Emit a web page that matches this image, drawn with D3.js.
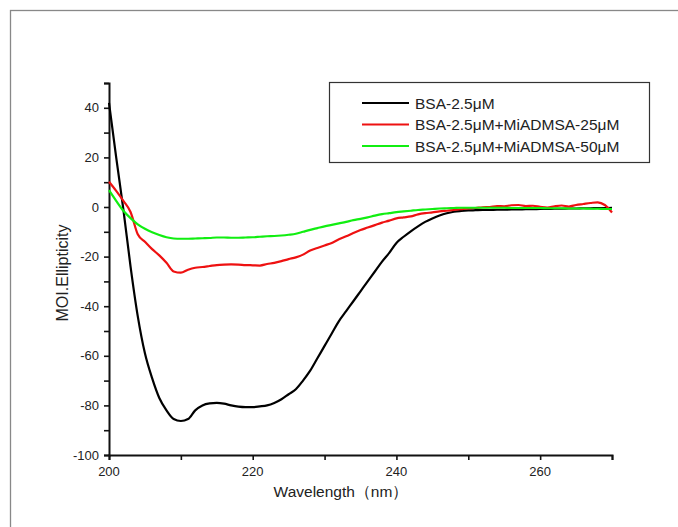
<!DOCTYPE html>
<html>
<head>
    <meta charset="utf-8">
    <title>CD spectra</title>
    <script src="https://d3js.org/d3.v7.min.js"></script>
    <style>
        body { margin: 0; background: #fff; }
        text { font-family: Arial, 'Liberation Sans', sans-serif; fill: #222; }
    </style>
</head>
<body>
    <svg id="chart" width="678" height="527"></svg>
    <script>
        // wavelength, nm (1 nm steps)
        const wavelength = d3.range(200, 271);

        const bsa = [42, 20, -1, -24, -44, -59, -69, -77, -82, -85.5,
            -86.3, -85.5, -82, -80, -79.2, -79, -79.3, -80, -80.5, -80.7,
            -80.7, -80.4, -80, -79, -77.5, -75.5, -73.5, -70, -66, -61,
            -56, -51, -46, -42, -38, -34, -30, -26, -22, -18.5,
            -14.5, -12, -9.8, -7.8, -6, -4.6, -3.4, -2.5, -1.9, -1.6,
            -1.4, -1.3, -1.2, -1.2, -1.1, -1.1, -1, -1, -0.9, -0.9,
            -0.8, -0.8, -0.7, -0.7, -0.6, -0.6, -0.5, -0.5, -0.4, -0.4, -0.3];

        const mix25 = [10.2, 6.5, 2.5, -2, -11, -14, -17, -19.5, -22.5, -26,
            -26.5, -25.3, -24.5, -24.2, -23.8, -23.4, -23.2, -23.1, -23.2, -23.4,
            -23.5, -23.6, -23, -22.5, -21.8, -21, -20.3, -19.2, -17.5, -16.5,
            -15.5, -14.5, -13, -11.8, -10.5, -9.3, -8.3, -7.3, -6.3, -5.5,
            -4.6, -4.2, -3.8, -3, -2.5, -2.2, -1.8, -1.5, -1.2, -0.9,
            -0.6, -0.4, -0.1, 0, 0.4, 0.3, 0.7, 0.8, 0.4, 0.5,
            0.1, -0.2, 0.3, 0.6, 0.2, 0.8, 1.2, 1.6, 1.9, 0.8, -2.2];

        const mix50 = [6.8, 2.5, -1.5, -4.5, -7, -8.8, -10.2, -11.3, -12.2, -12.7,
            -12.8, -12.8, -12.7, -12.6, -12.5, -12.3, -12.3, -12.4, -12.4, -12.3,
            -12.2, -12, -11.8, -11.7, -11.5, -11.2, -10.8, -10, -9.2, -8.5,
            -7.8, -7.2, -6.6, -6, -5.3, -4.8, -4.2, -3.5, -2.9, -2.5,
            -2.1, -1.8, -1.5, -1.2, -1, -0.8, -0.6, -0.5, -0.4, -0.3,
            -0.3, -0.3, -0.3, -0.3, -0.3, -0.3, -0.4, -0.4, -0.4, -0.4,
            -0.4, -0.5, -0.5, -0.5, -0.6, -0.6, -0.6, -0.7, -0.7, -0.8, -0.8];

        const seriesNames = ["BSA-2.5μM", "BSA-2.5μM+MiADMSA-25μM", "BSA-2.5μM+MiADMSA-50μM"];
        const seriesColors = ["#000000", "#ee1111", "#11ee11"];
        const seriesValues = [bsa, mix25, mix50];

        const xTicks = [200, 220, 240, 260];
        const yTicks = [-100, -80, -60, -40, -20, 0, 20, 40];

        const svg = d3.select("#chart");

        // outer frame
        svg.append("rect")
            .attr("x", 10.5).attr("y", 10.5)
            .attr("width", 720).attr("height", 600)
            .attr("fill", "none")
            .attr("stroke", "#888")
            .attr("stroke-width", 1.3);

        const plotLeft = 109, plotRight = 612, plotTop = 83, plotBottom = 455;

        const x = d3.scaleLinear().domain([200, 270]).range([plotLeft, plotRight]);
        const y = d3.scaleLinear().domain([-100, 50]).range([plotBottom, plotTop]);

        // ticks every 10, labels every 20
        const xAxisMinor = d3.axisBottom(x).tickValues(d3.range(200, 271, 10)).tickSize(5).tickFormat("");
        const yAxisMinor = d3.axisLeft(y).tickValues(d3.range(-100, 51, 10)).tickSize(5).tickFormat("");

        const gx = svg.append("g").attr("transform", `translate(0,${plotBottom})`).call(xAxisMinor);
        const gy = svg.append("g").attr("transform", `translate(${plotLeft},0)`).call(yAxisMinor);

        [gx, gy].forEach(g => {
            g.select(".domain").attr("stroke", "#111").attr("stroke-width", 2);
            g.selectAll(".tick line").attr("stroke", "#111").attr("stroke-width", 1.6);
        });

        svg.append("g").selectAll("text").data(xTicks).join("text")
            .attr("x", d => x(d)).attr("y", plotBottom + 21)
            .attr("text-anchor", "middle")
            .attr("font-size", 13)
            .text(d => d);

        svg.append("g").selectAll("text").data(yTicks).join("text")
            .attr("x", plotLeft - 10).attr("y", d => y(d) + 4.5)
            .attr("text-anchor", "end")
            .attr("font-size", 13)
            .text(d => d);

        svg.append("text")
            .attr("x", 341).attr("y", 497)
            .attr("text-anchor", "middle")
            .attr("font-size", 15.5)
            .text("Wavelength（nm）");

        svg.append("text")
            .attr("transform", "translate(68,273) rotate(-90)")
            .attr("text-anchor", "middle")
            .attr("font-size", 16)
            .text("MOI.Ellipticity");

        // curves
        const line = d3.line()
            .x((d, i) => x(wavelength[i]))
            .y(d => y(d))
            .curve(d3.curveMonotoneX);

        svg.append("g").selectAll("path").data(seriesValues).join("path")
            .attr("d", line)
            .attr("fill", "none")
            .attr("stroke", (d, i) => seriesColors[i])
            .attr("stroke-width", 2.2);

        // legend
        const legend = svg.append("g").attr("transform", "translate(329,82)");
        legend.append("rect")
            .attr("x", 0.5).attr("y", 0.5)
            .attr("width", 320).attr("height", 80)
            .attr("fill", "#fff")
            .attr("stroke", "#333")
            .attr("stroke-width", 1.2);

        const rows = legend.selectAll(".row").data(seriesNames).join("g")
            .attr("transform", (d, i) => `translate(0,${21 + i * 21.5})`);
        rows.append("line")
            .attr("x1", 33).attr("x2", 80)
            .attr("stroke", (d, i) => seriesColors[i])
            .attr("stroke-width", 2.2);
        rows.append("text")
            .attr("x", 86).attr("y", 5.5)
            .attr("font-size", 15.5)
            .text(d => d);
    </script>
</body>
</html>
